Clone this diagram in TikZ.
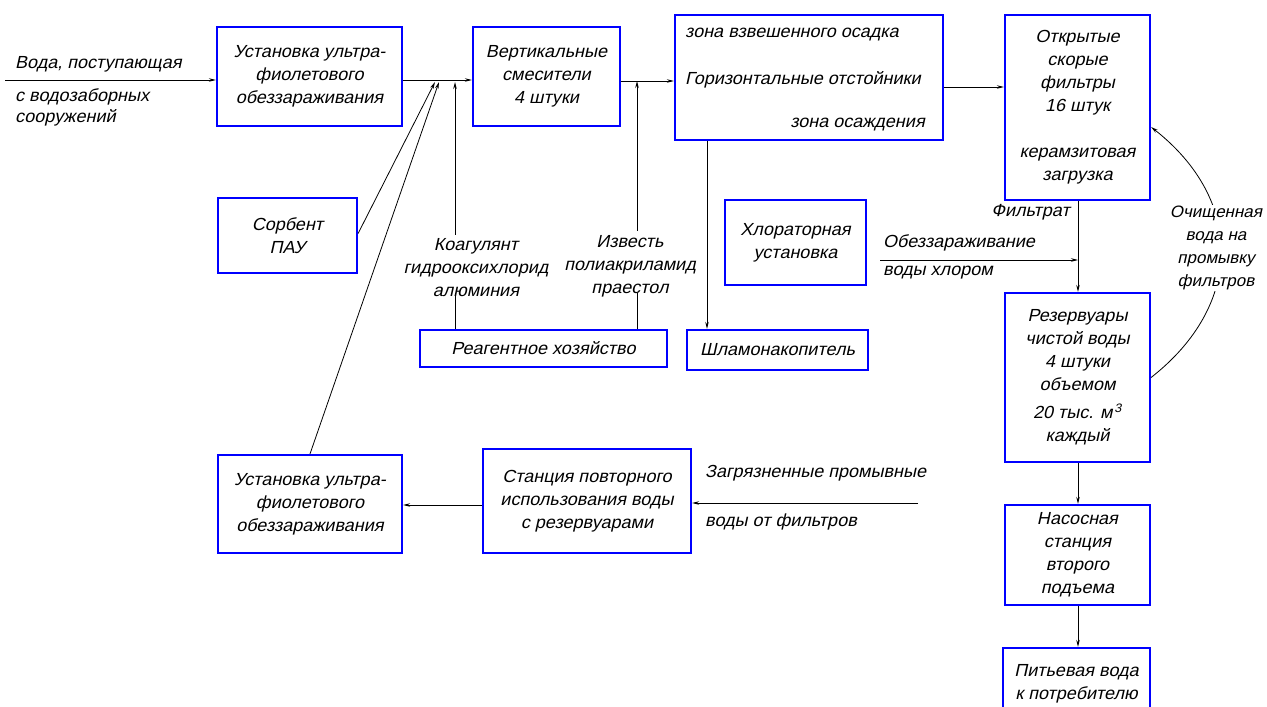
\documentclass[tikz,border=0pt]{standalone}
\usepackage{fontspec}
\setmainfont{Liberation Sans}[FakeSlant=0.22, FakeStretch=1.03]
\usetikzlibrary{arrows.meta}
\newcommand{\gostsize}{\fontsize{17.5}{23}\selectfont}
\begin{document}
\begin{tikzpicture}[x=1pt,y=-1pt,
  box/.style={draw=blue, line width=2.2pt, align=center, inner sep=0pt, font=\gostsize},
  lbl/.style={align=center, inner sep=0pt, font=\gostsize},
  arr/.style={-{Stealth[length=7pt,width=3.5pt]}, line width=0.8pt},
  ln/.style={line width=0.8pt}]
\useasboundingbox (0,0) rectangle (1267,707);
\clip (0,0) rectangle (1267,707);

% boxes
\node[box, minimum width=185pt, minimum height=99pt] (uv1) at (309.5,76.5) {Установка ультра-\\фиолетового\\обеззараживания};
\node[box, minimum width=147pt, minimum height=99pt] (mix) at (546.5,76.5) {Вертикальные\\смесители\\4 штуки};
\node[box, minimum width=268pt, minimum height=125pt] (sett) at (809,77.5) {};
\node[box, minimum width=145pt, minimum height=185pt] (filt) at (1077.5,107.5) {Открытые\\скорые\\фильтры\\16 штук\\[23pt]керамзитовая\\загрузка};
\node[box, minimum width=139pt, minimum height=75pt] (sorb) at (287.5,235.5) {Сорбент\\ПАУ};
\node[box, minimum width=141pt, minimum height=85pt] (chlor) at (795.5,242.5) {Хлораторная\\установка};
\node[box, minimum width=247pt, minimum height=37pt] (reag) at (543.5,348.5) {Реагентное хозяйство};
\node[box, minimum width=181pt, minimum height=40pt] (sludge) at (777.5,350) {Шламонакопитель};
\node[box, minimum width=145pt, minimum height=169pt] (res) at (1077.5,377.5) {Резервуары\\чистой воды\\4 штуки\\объемом\\[5pt]20 тыс. м\textsuperscript{\,3}\\каждый};
\node[box, minimum width=145pt, minimum height=100pt] (pump) at (1077.5,555) {Насосная\\станция\\второго\\подъема};
\node[box, minimum width=147pt, minimum height=72pt] (drink) at (1076.5,684) {Питьевая вода\\к потребителю};
\node[box, minimum width=184pt, minimum height=98pt] (uv2) at (310,504) {Установка ультра-\\фиолетового\\обеззараживания};
\node[box, minimum width=208pt, minimum height=104pt] (stat) at (587,501) {Станция повторного\\использования воды\\с резервуарами};

% texts in settling box
\node[lbl, anchor=west] (s1) at (685,35) {зона взвешенного осадка};
\node[lbl, anchor=west] (s2) at (685,80) {Горизонтальные отстойники};
\node[lbl, anchor=east] (s3) at (925,125) {зона осаждения};

% free labels
\node[lbl, anchor=west] (in1) at (15,64) {Вода, поступающая};
\node[lbl, anchor=west] (in2) at (15,97) {с водозаборных};
\node[lbl, anchor=west] (in3) at (15,118) {сооружений};
\node[lbl] (coag) at (476,268) {Коагулянт\\гидрооксихлорид\\алюминия};
\node[lbl] (lime) at (630,266) {Известь\\полиакриламид\\праестол};
\node[lbl, anchor=east] (filtrat) at (1070,212) {Фильтрат};
\node[lbl, anchor=west] (cl1) at (883,243) {Обеззараживание};
\node[lbl, anchor=west] (cl2) at (883,273) {воды хлором};
\node[lbl, anchor=west] (w1) at (705,473) {Загрязненные промывные};
\node[lbl, anchor=west] (w2) at (705,522) {воды от фильтров};

% coordinates
\coordinate (src) at (5,80);
\coordinate (m1) at (0,80);
\coordinate (m2) at (0,81);
\coordinate (m3) at (0,87);
\coordinate (ps) at (435,82);
\coordinate (pu) at (439,82);
\coordinate (kc) at (455,82);
\coordinate (lc) at (637,81);
\coordinate (sx) at (707,0);
\coordinate (fx) at (1078,0);
\coordinate (cls) at (880,260);
\coordinate (wsrc) at (918,503);
\coordinate (wy) at (0,505);

% main line
\draw[arr] (src) -- (src -| uv1.west);
\draw[arr] (uv1.east |- m1) -- (mix.west |- m1);
\draw[arr] (mix.east |- m2) -- (sett.west |- m2);
\draw[arr] (sett.east |- m3) -- (filt.west |- m3);

% additives
\draw[arr] (sorb.east) ++(0,-2) -- (ps);
\draw[arr] (uv2.north) -- (pu);
\draw[arr] (coag.north -| kc) ++(0,-4) -- (kc);
\draw[ln] (reag.north -| kc) -- ([yshift=4pt]coag.south -| kc);
\draw[arr] (lime.north -| lc) ++(0,-4) -- (lc);
\draw[ln] (reag.north -| lc) -- ([yshift=4pt]lime.south -| lc);

% sludge
\draw[arr] (sett.south -| sx) -- (sludge.north -| sx);

% filtrate
\draw[arr] (filt.south -| fx) -- (res.north -| fx);
\draw[arr] (cls) -- (cls -| fx);
\draw[arr] (res.south -| fx) -- (pump.north -| fx);
\draw[arr] (pump.south -| fx) -- (drink.north -| fx);

% wash water
\draw[arr] (wsrc) -- (wsrc -| stat.east);
\draw[arr] (stat.west |- wy) -- (uv2.east |- wy);

% return curve
\coordinate (rtop) at ([yshift=-19.5pt]filt.east);
\draw[arr] (res.east) .. controls +(93,-73) and +(93,73) .. (rtop);
\node[lbl, fill=white, inner sep=1pt, font=\fontsize{16.5}{23}\selectfont] (wash) at (1216,248) {Очищенная\\вода на\\промывку\\фильтров};
\end{tikzpicture}
\end{document}
